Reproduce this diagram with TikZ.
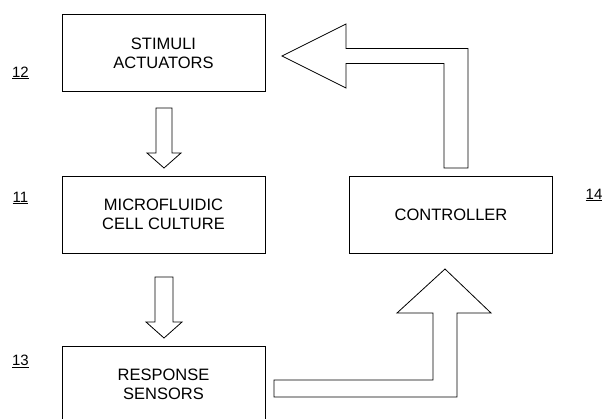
\documentclass[tikz,border=0pt]{standalone}
\usepackage{fontspec}
\setmainfont{Liberation Sans}
\begin{document}
\begin{tikzpicture}[x=1pt,y=-1pt,
  box/.style={draw, line width=0.9pt, rectangle, minimum width=203pt, minimum height=77pt, inner sep=0pt, align=center, font=\fontsize{16.5}{19}\selectfont},
  blk/.style={draw, line width=0.8pt, line join=miter},
  lbl/.style={font=\fontsize{15}{18}\selectfont, inner sep=0pt}]
\useasboundingbox (0,0) rectangle (602,418);
% boxes
\node[box] (b12) at (163.5,53) {STIMULI\\ACTUATORS};
\node[box] (b11) at (163.5,214.5) {MICROFLUIDIC\\CELL CULTURE};
\node[box] (b14) at (451,214.5) {CONTROLLER};
\node[box] (b13) at (163.5,384.5) {RESPONSE\\SENSORS};
% labels
\node[lbl] (l12) at (20.5,73) {\underline{12}};
\node[lbl] (l11) at (20.5,198) {\underline{11}};
\node[lbl] (l14) at (594,195) {\underline{14}};
\node[lbl] (l13) at (20.5,361) {\underline{13}};
% block arrow stimuli -> culture
\draw[blk] (156,108) -- (172,108) -- (172,153) -- (181,153) -- (164,168) -- (147,153) -- (156,153) -- cycle;
% block arrow culture -> sensors
\draw[blk] (155,277) -- (173,277) -- (173,322) -- (182,322) -- (164,338) -- (146,322) -- (155,322) -- cycle;
% sensors -> controller
\draw[blk] (274,380) -- (433,380) -- (433,313) -- (397,313) -- (445,269) -- (491,313) -- (457,313) -- (457,397) -- (274,397) -- cycle;
% controller -> stimuli
\draw[blk] (444,168) -- (444,63.5) -- (346,63.5) -- (346,88) -- (282,56) -- (346,24) -- (346,48.5) -- (468,48.5) -- (468,168) -- cycle;
\end{tikzpicture}
\end{document}
